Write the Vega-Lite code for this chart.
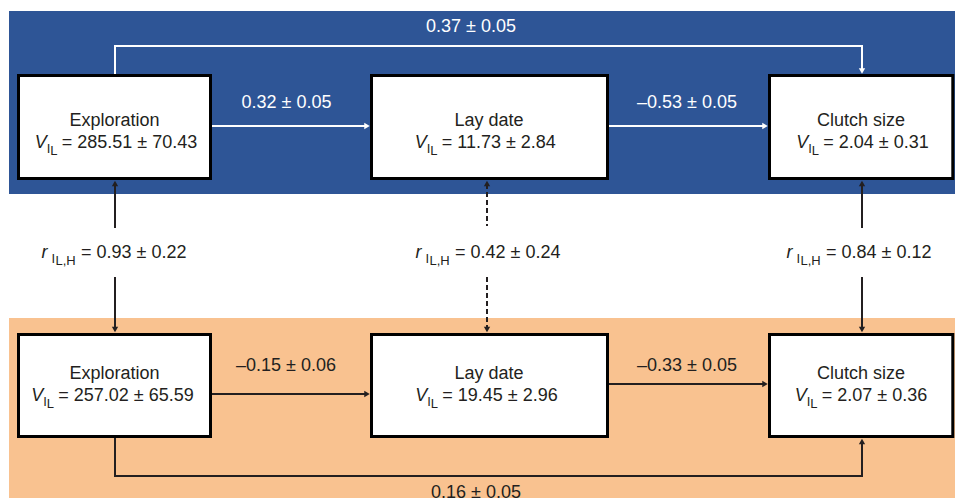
{
  "$schema": "https://vega.github.io/schema/vega-lite/v6.json",
  "width": 955,
  "height": 498,
  "padding": 0,
  "autosize": {"type": "none"},
  "background": "#ffffff",
  "config": {"view": {"stroke": null}},
  "datasets": {
    "panels": [
      {"panel": "High", "x": 9, "x2": 955, "y": 11, "y2": 194, "tone": "blue"},
      {"panel": "Low", "x": 9, "x2": 955, "y": 318, "y2": 498, "tone": "orange"}
    ],
    "boxes": [
      {"node": "Exploration H", "x": 18.5, "x2": 210.5, "y": 75.5, "y2": 178.5},
      {"node": "Lay date H", "x": 371.5, "x2": 607.5, "y": 75.5, "y2": 178.5},
      {"node": "Clutch size H", "x": 769.5, "x2": 952.8, "y": 75.5, "y2": 178.5},
      {"node": "Exploration L", "x": 18.5, "x2": 210.5, "y": 334.5, "y2": 436.5},
      {"node": "Lay date L", "x": 371.5, "x2": 607.5, "y": 334.5, "y2": 436.5},
      {"node": "Clutch size L", "x": 769.5, "x2": 952.8, "y": 334.5, "y2": 436.5}
    ],
    "segs": [
      {"x": 115, "y": 74, "x2": 115, "y2": 46, "tone": "light", "line": "solid"},
      {"x": 114, "y": 46, "x2": 863, "y2": 46, "tone": "light", "line": "solid"},
      {"x": 862, "y": 46, "x2": 862, "y2": 70, "tone": "light", "line": "solid"},
      {"x": 212, "y": 126, "x2": 366, "y2": 126, "tone": "light", "line": "solid"},
      {"x": 609, "y": 126, "x2": 764, "y2": 126, "tone": "light", "line": "solid"},
      {"x": 115, "y": 184, "x2": 115, "y2": 228, "tone": "dark", "line": "solid"},
      {"x": 115, "y": 277, "x2": 115, "y2": 329, "tone": "dark", "line": "solid"},
      {"x": 487, "y": 184, "x2": 487, "y2": 226, "tone": "dark", "line": "dashed"},
      {"x": 487, "y": 277, "x2": 487, "y2": 329, "tone": "dark", "line": "dashed"},
      {"x": 862, "y": 184, "x2": 862, "y2": 228, "tone": "dark", "line": "solid"},
      {"x": 862, "y": 277, "x2": 862, "y2": 329, "tone": "dark", "line": "solid"},
      {"x": 212, "y": 394, "x2": 366, "y2": 394, "tone": "dark", "line": "solid"},
      {"x": 609, "y": 384, "x2": 764, "y2": 384, "tone": "dark", "line": "solid"},
      {"x": 115, "y": 438, "x2": 115, "y2": 476, "tone": "dark", "line": "solid"},
      {"x": 114, "y": 476, "x2": 863, "y2": 476, "tone": "dark", "line": "solid"},
      {"x": 862, "y": 476, "x2": 862, "y2": 442, "tone": "dark", "line": "solid"}
    ],
    "heads": [
      {"x": 367, "y": 126, "dir": "right", "tone": "light"},
      {"x": 765, "y": 126, "dir": "right", "tone": "light"},
      {"x": 862, "y": 71, "dir": "down", "tone": "light"},
      {"x": 115, "y": 183.5, "dir": "up", "tone": "dark"},
      {"x": 115, "y": 329.5, "dir": "down", "tone": "dark"},
      {"x": 487, "y": 183.5, "dir": "up", "tone": "dark"},
      {"x": 487, "y": 329.5, "dir": "down", "tone": "dark"},
      {"x": 862, "y": 183.5, "dir": "up", "tone": "dark"},
      {"x": 862, "y": 329.5, "dir": "down", "tone": "dark"},
      {"x": 367, "y": 394, "dir": "right", "tone": "dark"},
      {"x": 765, "y": 384, "dir": "right", "tone": "dark"},
      {"x": 862, "y": 441.5, "dir": "up", "tone": "dark"}
    ],
    "texts": [
      {"text": "Exploration", "x": 114.5, "y": 125.5, "role": "center", "tone": "dark"},
      {"text": "Lay date", "x": 489, "y": 125.5, "role": "center", "tone": "dark"},
      {"text": "Clutch size", "x": 861, "y": 125.5, "role": "center", "tone": "dark"},
      {"text": "Exploration", "x": 114.5, "y": 379, "role": "center", "tone": "dark"},
      {"text": "Lay date", "x": 489, "y": 379, "role": "center", "tone": "dark"},
      {"text": "Clutch size", "x": 861, "y": 379, "role": "center", "tone": "dark"},

      {"text": "V", "x": 34.7, "y": 147.5, "role": "ital", "tone": "dark"},
      {"text": "I", "x": 46.7, "y": 152.5, "role": "sub", "tone": "dark"},
      {"text": "L", "x": 50.2, "y": 154.5, "role": "sub", "tone": "dark"},
      {"text": "= 285.51 ± 70.43", "x": 61.7, "y": 147.5, "role": "main", "tone": "dark"},

      {"text": "V", "x": 414.7, "y": 147.5, "role": "ital", "tone": "dark"},
      {"text": "I", "x": 426.7, "y": 152.5, "role": "sub", "tone": "dark"},
      {"text": "L", "x": 430.2, "y": 154.5, "role": "sub", "tone": "dark"},
      {"text": "= 11.73 ± 2.84", "x": 441.7, "y": 147.5, "role": "main", "tone": "dark"},

      {"text": "V", "x": 796.3, "y": 147.5, "role": "ital", "tone": "dark"},
      {"text": "I", "x": 808.3, "y": 152.5, "role": "sub", "tone": "dark"},
      {"text": "L", "x": 811.8, "y": 154.5, "role": "sub", "tone": "dark"},
      {"text": "= 2.04 ± 0.31", "x": 823.3, "y": 147.5, "role": "main", "tone": "dark"},

      {"text": "V", "x": 31.3, "y": 400.5, "role": "ital", "tone": "dark"},
      {"text": "I", "x": 43.3, "y": 405.5, "role": "sub", "tone": "dark"},
      {"text": "L", "x": 46.8, "y": 407.5, "role": "sub", "tone": "dark"},
      {"text": "= 257.02 ± 65.59", "x": 58.3, "y": 400.5, "role": "main", "tone": "dark"},

      {"text": "V", "x": 415.3, "y": 400.5, "role": "ital", "tone": "dark"},
      {"text": "I", "x": 427.3, "y": 405.5, "role": "sub", "tone": "dark"},
      {"text": "L", "x": 430.8, "y": 407.5, "role": "sub", "tone": "dark"},
      {"text": "= 19.45 ± 2.96", "x": 442.3, "y": 400.5, "role": "main", "tone": "dark"},

      {"text": "V", "x": 794.7, "y": 400.5, "role": "ital", "tone": "dark"},
      {"text": "I", "x": 806.7, "y": 405.5, "role": "sub", "tone": "dark"},
      {"text": "L", "x": 810.2, "y": 407.5, "role": "sub", "tone": "dark"},
      {"text": "= 2.07 ± 0.36", "x": 821.7, "y": 400.5, "role": "main", "tone": "dark"},

      {"text": "r", "x": 41.5, "y": 258.3, "role": "ital", "tone": "dark"},
      {"text": "I", "x": 51.5, "y": 262.5, "role": "sub", "tone": "dark"},
      {"text": "L,H", "x": 55.5, "y": 265, "role": "sub", "tone": "dark"},
      {"text": "= 0.93 ± 0.22", "x": 81, "y": 258.3, "role": "main", "tone": "dark"},

      {"text": "r", "x": 415.5, "y": 258.3, "role": "ital", "tone": "dark"},
      {"text": "I", "x": 425.5, "y": 262.5, "role": "sub", "tone": "dark"},
      {"text": "L,H", "x": 429.5, "y": 265, "role": "sub", "tone": "dark"},
      {"text": "= 0.42 ± 0.24", "x": 455, "y": 258.3, "role": "main", "tone": "dark"},

      {"text": "r", "x": 786.5, "y": 258.3, "role": "ital", "tone": "dark"},
      {"text": "I", "x": 796.5, "y": 262.5, "role": "sub", "tone": "dark"},
      {"text": "L,H", "x": 800.5, "y": 265, "role": "sub", "tone": "dark"},
      {"text": "= 0.84 ± 0.12", "x": 826, "y": 258.3, "role": "main", "tone": "dark"},

      {"text": "0.32 ± 0.05", "x": 286.5, "y": 108, "role": "center", "tone": "light"},
      {"text": "–0.53 ± 0.05", "x": 687, "y": 108, "role": "center", "tone": "light"},
      {"text": "0.37 ± 0.05", "x": 471, "y": 32, "role": "center", "tone": "light"},
      {"text": "–0.15 ± 0.06", "x": 286, "y": 370.5, "role": "center", "tone": "dark"},
      {"text": "–0.33 ± 0.05", "x": 687, "y": 370.5, "role": "center", "tone": "dark"},
      {"text": "0.16 ± 0.05", "x": 476, "y": 498, "role": "center", "tone": "dark"}
    ]
  },
  "encoding": {
    "x": {"field": "x", "type": "quantitative", "scale": {"domain": [0, 955], "nice": false, "zero": false}, "axis": null},
    "y": {"field": "y", "type": "quantitative", "scale": {"domain": [0, 498], "nice": false, "zero": false, "reverse": true}, "axis": null}
  },
  "layer": [
    {
      "data": {"name": "panels"},
      "mark": {"type": "rect", "strokeWidth": 0},
      "encoding": {
        "x2": {"field": "x2"},
        "y2": {"field": "y2"},
        "color": {"field": "tone", "type": "nominal", "scale": {"domain": ["blue", "orange", "light", "dark"], "range": ["#2e5596", "#f9c290", "#ffffff", "#231f20"]}, "legend": null}
      }
    },
    {
      "data": {"name": "segs"},
      "mark": {"type": "rule", "strokeWidth": 2},
      "encoding": {
        "x2": {"field": "x2"},
        "y2": {"field": "y2"},
        "color": {"field": "tone", "type": "nominal", "scale": {"domain": ["blue", "orange", "light", "dark"], "range": ["#2e5596", "#f9c290", "#ffffff", "#231f20"]}, "legend": null},
        "strokeDash": {"field": "line", "type": "nominal", "scale": {"domain": ["solid", "dashed"], "range": [[1, 0], [5, 3]]}, "legend": null}
      }
    },
    {
      "data": {"name": "boxes"},
      "mark": {"type": "rect", "fill": "#ffffff", "stroke": "#000000", "strokeWidth": 3},
      "encoding": {
        "x2": {"field": "x2"},
        "y2": {"field": "y2"}
      }
    },
    {
      "data": {"name": "heads"},
      "mark": {"type": "point", "filled": true, "opacity": 1, "size": 40},
      "encoding": {
        "shape": {"field": "dir", "type": "nominal", "scale": {"domain": ["right", "down", "up"], "range": ["triangle-right", "triangle-down", "triangle-up"]}, "legend": null},
        "color": {"field": "tone", "type": "nominal", "scale": {"domain": ["blue", "orange", "light", "dark"], "range": ["#2e5596", "#f9c290", "#ffffff", "#231f20"]}, "legend": null}
      }
    },
    {
      "data": {"name": "texts"},
      "transform": [{"filter": "datum.role === 'center'"}],
      "mark": {"type": "text", "font": "Liberation Sans", "fontSize": 18, "align": "center", "baseline": "alphabetic"},
      "encoding": {
        "text": {"field": "text"},
        "color": {"field": "tone", "type": "nominal", "scale": {"domain": ["blue", "orange", "light", "dark"], "range": ["#2e5596", "#f9c290", "#ffffff", "#231f20"]}, "legend": null}
      }
    },
    {
      "data": {"name": "texts"},
      "transform": [{"filter": "datum.role === 'main'"}],
      "mark": {"type": "text", "font": "Liberation Sans", "fontSize": 18, "align": "left", "baseline": "alphabetic"},
      "encoding": {
        "text": {"field": "text"},
        "color": {"field": "tone", "type": "nominal", "scale": {"domain": ["blue", "orange", "light", "dark"], "range": ["#2e5596", "#f9c290", "#ffffff", "#231f20"]}, "legend": null}
      }
    },
    {
      "data": {"name": "texts"},
      "transform": [{"filter": "datum.role === 'ital'"}],
      "mark": {"type": "text", "font": "Liberation Sans", "fontSize": 18, "fontStyle": "italic", "align": "left", "baseline": "alphabetic"},
      "encoding": {
        "text": {"field": "text"},
        "color": {"field": "tone", "type": "nominal", "scale": {"domain": ["blue", "orange", "light", "dark"], "range": ["#2e5596", "#f9c290", "#ffffff", "#231f20"]}, "legend": null}
      }
    },
    {
      "data": {"name": "texts"},
      "transform": [{"filter": "datum.role === 'sub'"}],
      "mark": {"type": "text", "font": "Liberation Sans", "fontSize": 13, "align": "left", "baseline": "alphabetic"},
      "encoding": {
        "text": {"field": "text"},
        "color": {"field": "tone", "type": "nominal", "scale": {"domain": ["blue", "orange", "light", "dark"], "range": ["#2e5596", "#f9c290", "#ffffff", "#231f20"]}, "legend": null}
      }
    }
  ]
}
